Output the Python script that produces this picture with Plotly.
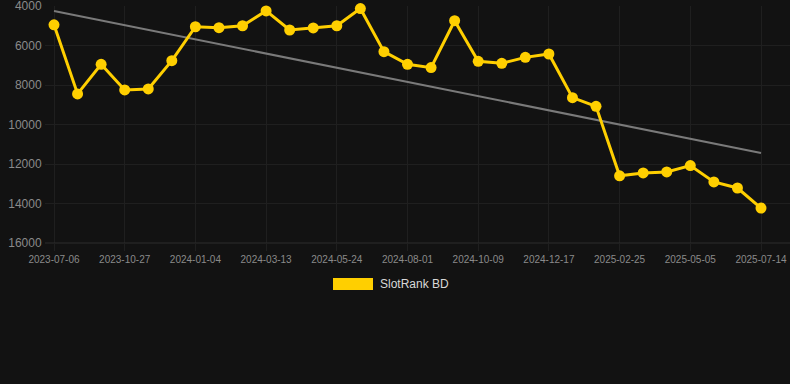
import plotly.graph_objects as go

dates = [
    "2023-07-06", "2023-08-13", "2023-09-20", "2023-10-27", "2023-11-19", "2023-12-12",
    "2024-01-04", "2024-01-27", "2024-02-19", "2024-03-13", "2024-04-06", "2024-04-30",
    "2024-05-24", "2024-06-16", "2024-07-09", "2024-08-01", "2024-08-24", "2024-09-16",
    "2024-10-09", "2024-11-01", "2024-11-24", "2024-12-17", "2025-01-09", "2025-02-02",
    "2025-02-25", "2025-03-20", "2025-04-12", "2025-05-05", "2025-05-28", "2025-06-21",
    "2025-07-14",
]
rank_values = [
    4950, 8450, 6950, 8250, 8200, 6770,
    5050, 5100, 5000, 4250, 5215, 5110,
    5000, 4130, 6310, 6950, 7120, 4745,
    6800, 6900, 6600, 6430, 8640, 9080,
    12600, 12455, 12400, 12080, 12910, 13215,
    14230,
]
trend_dates = [dates[0], dates[-1]]
trend_values = [4250, 11440]
tick_labels = dates[::3]
y_ticks = [4000, 6000, 8000, 10000, 12000, 14000, 16000]
series_name = "SlotRank BD"

BG = "#121212"
GRID = "#1f1f1f"
YELLOW = "#FFCF00"
W, H = 790, 384
L, R, T, B = 45, 0, 6, 141
plot_w = W - L - R
plot_h = H - T - B


def px_x(px):
    return (px - L) / plot_w


def px_y(py):
    return (H - B - py) / plot_h


fig = go.Figure()
fig.add_trace(go.Scatter(
    x=trend_dates, y=trend_values, mode="lines",
    line=dict(color="#7a7a7a", width=2), hoverinfo="skip", showlegend=False,
))
fig.add_trace(go.Scatter(
    x=dates, y=rank_values, mode="lines+markers", name=series_name,
    line=dict(color=YELLOW, width=3),
    marker=dict(color=YELLOW, size=11),
    cliponaxis=False, showlegend=False,
))

n = len(dates)
step = 707 / (n - 1)
x0 = -(54 - L) / step
x1 = (n - 1) + (W - R - 761) / step

fig.update_layout(
    width=W, height=H,
    margin=dict(l=L, r=R, t=T, b=B),
    paper_bgcolor=BG, plot_bgcolor=BG,
    font=dict(family="Arial, Liberation Sans, sans-serif", color="#8a8a8a"),
    showlegend=False,
    xaxis=dict(
        type="category", categoryorder="array", categoryarray=dates,
        range=[x0, x1],
        tickmode="array", tickvals=tick_labels, ticktext=tick_labels,
        showgrid=True, gridcolor=GRID, gridwidth=1,
        ticks="outside", ticklen=7, tickcolor=GRID,
        tickfont=dict(size=10, color="#8a8a8a"),
        showline=False, zeroline=False,
    ),
    yaxis=dict(
        range=[16000.5, 3999.5], tickmode="array", tickvals=y_ticks,
        ticktext=[str(v) for v in y_ticks],
        showgrid=True, gridcolor=GRID, gridwidth=1,
        ticks="outside", ticklen=0,
        tickfont=dict(size=12, color="#8a8a8a"),
        ticklabeloverflow="allow",
        zeroline=False, showline=False,
    ),
    shapes=[
        dict(type="line", xref="paper", yref="paper", x0=px_x(45), x1=1, y0=0, y1=0,
             line=dict(color="#2c2c2c", width=1)),
        dict(type="rect", xref="paper", yref="paper",
             x0=px_x(333), x1=px_x(373), y0=px_y(290), y1=px_y(278),
             fillcolor=YELLOW, line=dict(width=0)),
    ],
    annotations=[
        dict(text=series_name, xref="paper", yref="paper", x=px_x(378), y=px_y(284),
             xanchor="left", yanchor="middle", showarrow=False,
             font=dict(size=12, color="#d8d8d8")),
    ],
)

fig.write_html(
    "out.html",
    config={"displayModeBar": False},
    post_script="document.body.style.margin='0';document.body.style.background='#121212';",
)
